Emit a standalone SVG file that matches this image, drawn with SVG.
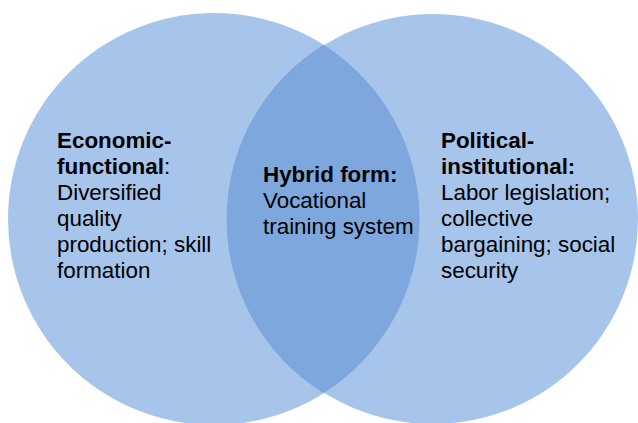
<svg xmlns="http://www.w3.org/2000/svg" width="638" height="423" viewBox="0 0 638 423">
<style>
.c{fill:#A7C4EA}
.lens{fill:#7DA7DD}
text{font-family:"Liberation Sans",Arial,sans-serif;font-size:22.4px;fill:#000}
.b{font-weight:bold}
</style>
<rect width="638" height="423" fill="#fff"/>
<g id="left-circle"><circle class="c" cx="214" cy="219" r="206"/></g>
<g id="right-circle"><circle class="c" cx="433" cy="219" r="205"/></g>
<g id="overlap"><path class="lens" d="M323.5,44.8 A206,206 0 0 1 323.5,393.2 A205,205 0 0 1 323.5,44.8 Z"/></g>
<g id="left-text">
<text x="57" y="148" class="b">Economic-</text>
<text x="57" y="174"><tspan class="b">functional</tspan>:</text>
<text x="57" y="200">Diversified</text>
<text x="57" y="226">quality</text>
<text x="57" y="252">production; skill</text>
<text x="57" y="278">formation</text>
</g>
<g id="middle-text">
<text x="263" y="182" class="b">Hybrid form:</text>
<text x="263" y="208">Vocational</text>
<text x="263" y="234">training system</text>
</g>
<g id="right-text">
<text x="441" y="148" class="b">Political-</text>
<text x="441" y="174" class="b">institutional:</text>
<text x="441" y="200">Labor legislation;</text>
<text x="441" y="226">collective</text>
<text x="441" y="252">bargaining; social</text>
<text x="441" y="278">security</text>
</g>
</svg>
